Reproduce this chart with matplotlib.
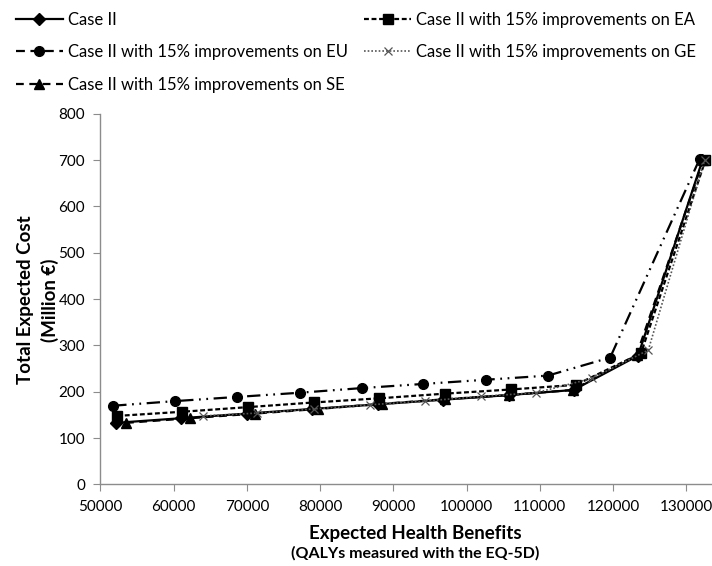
import matplotlib.pyplot as plt
from matplotlib.lines import Line2D

plt.rcParams['font.family'] = ['Lato', 'DejaVu Sans']

# QALYs (x) and total expected cost in million EUR (y) for each scenario
case2_x = [52100, 61000, 70000, 78900, 87900, 96800, 105800, 114600, 123400, 132200]
case2_y = [133, 143, 153, 163, 173, 183, 193, 204, 278, 700]

ea_x = [52300, 61200, 70200, 79100, 88100, 97000, 106000, 114900, 123800, 132600]
ea_y = [148, 157, 167, 177, 186, 196, 205, 215, 283, 700]

eu_x = [51750, 60250, 68700, 77200, 85650, 94100, 102600, 111100, 119600, 131800]
eu_y = [170, 180, 189, 198, 208, 217, 226, 235, 274, 702]

ge_x = [63960, 71340, 79100, 86800, 94300, 101900, 109500, 117100, 124800, 132500]
ge_y = [148, 154, 163, 172, 180, 190, 198, 229, 290, 700]

se_x = [53500, 62200, 71100, 79700, 88400, 97100, 105800, 114500, 123200, 132300]
se_y = [133, 143, 153, 163, 174, 184, 193, 204, 279, 700]

labels = ['Case II',
          'Case II with 15% improvements on EA',
          'Case II with 15% improvements on EU',
          'Case II with 15% improvements on GE',
          'Case II with 15% improvements on SE']

x_ticks = [50000, 60000, 70000, 80000, 90000, 100000, 110000, 120000, 130000]
y_ticks = [0, 100, 200, 300, 400, 500, 600, 700, 800]

fig = plt.figure(figsize=(7.12, 5.66), dpi=100)
ax = fig.add_axes([0.141, 0.144, 0.859, 0.655])

axis_grey = '#8c8c8c'
ms = 7

l_case2, = ax.plot(case2_x, case2_y, color='black', lw=1.6, ls='-',
                   marker='D', ms=5.8, zorder=5)
l_ea, = ax.plot(ea_x, ea_y, color='black', lw=1.6, ls=(0, (2.2, 1.2)),
                marker='s', ms=6.5, zorder=4)
l_eu, = ax.plot(eu_x, eu_y, color='black', lw=1.6,
                ls=(0, (6, 2.5, 0.8, 2.5, 0.8, 2.5)),
                marker='o', ms=ms, zorder=3)
l_ge, = ax.plot(ge_x, ge_y, color='#555555', lw=1.2, ls=(0, (1, 1.2)),
                marker='x', ms=6, mew=0.9, zorder=6)
l_se, = ax.plot(se_x, se_y, color='black', lw=1.6, ls=(0, (3.5, 2.5)),
                marker='^', ms=ms, zorder=4)

ax.set_xlim(50000, 133500)
ax.set_ylim(0, 800)
ax.set_xticks(x_ticks)
ax.set_yticks(y_ticks)
ax.tick_params(axis='both', direction='out', length=5, color=axis_grey,
               labelsize=11, labelcolor='black', pad=6)
for side in ['top', 'right']:
    ax.spines[side].set_visible(False)
for side in ['left', 'bottom']:
    ax.spines[side].set_color(axis_grey)
    ax.spines[side].set_linewidth(1.0)

# axis titles, two lines each with a smaller second line
fig.text(0.583, 0.058, 'Expected Health Benefits', ha='center', va='center',
         fontsize=13.5, fontweight='bold')
fig.text(0.583, 0.023, '(QALYs measured with the EQ-5D)', ha='center',
         va='center', fontsize=11.5, fontweight='bold')
fig.text(0.036, 0.47, 'Total Expected Cost', ha='center', va='center',
         rotation=90, fontsize=13.5, fontweight='bold')
fig.text(0.07, 0.47, '(Million \u20ac)', ha='center', va='center',
         rotation=90, fontsize=13.5, fontweight='bold')

# legend handles; EU handle shows only the long dash in the key
h_eu = Line2D([], [], color='black', lw=1.6, ls=(0, (4, 2.5)),
              marker='o', ms=ms)
handles = [l_case2, h_eu, l_se, l_ea, l_ge]
order = [labels[0], labels[2], labels[4], labels[1], labels[3]]
fig.legend(handles, order, loc='upper center', bbox_to_anchor=(0.5, 1.0),
           ncol=2, frameon=False, fontsize=12, handlelength=2.8,
           handletextpad=0.3, columnspacing=1.0, labelspacing=1.0,
           borderaxespad=0.3)

fig.savefig('out.png', dpi=100)
